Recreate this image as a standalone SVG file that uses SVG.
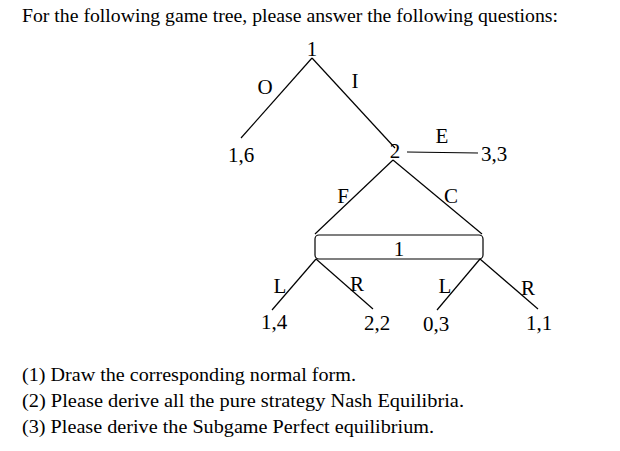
<svg xmlns="http://www.w3.org/2000/svg" width="620" height="451" viewBox="0 0 620 451">
<style>
text{font-family:"Liberation Serif","DejaVu Serif",serif;fill:#000}
.t{font-size:18px}
.n{font-size:21px}
line,.box{stroke:#000;stroke-width:1.2;fill:none}
</style>
<rect width="620" height="451" fill="#fff"/>
<text class="t" x="22" y="22" textLength="536" lengthAdjust="spacingAndGlyphs">For the following game tree, please answer the following questions:</text>
<g id="connectors">
<line x1="312" y1="58" x2="241" y2="138"/>
<line x1="312" y1="58" x2="395" y2="148"/>
<line x1="407" y1="152" x2="478" y2="153" stroke-width="0.8"/>
<line x1="393" y1="160" x2="315" y2="234"/>
<line x1="393" y1="160" x2="482" y2="234"/>
<line x1="316" y1="259" x2="272" y2="310"/>
<line x1="316" y1="259" x2="373" y2="309"/>
<line x1="480" y1="259" x2="437" y2="310"/>
<line x1="480" y1="259" x2="538" y2="309"/>
</g>
<g class="n" text-anchor="middle">
<text x="312" y="56">1</text>
<text x="265" y="94">O</text>
<text x="355" y="88">I</text>
<text x="241" y="162">1,6</text>
<text x="395" y="158">2</text>
<text x="442" y="143">E</text>
<text x="494" y="161">3,3</text>
<text x="343" y="203">F</text>
<text x="451" y="203">C</text>
</g>
<g id="infoset">
<rect class="box" x="315" y="235" width="168" height="24" rx="4"/>
<text class="n" x="399" y="256" text-anchor="middle">1</text>
</g>
<g class="n" text-anchor="middle">
<text x="280" y="293">L</text>
<text x="357" y="291">R</text>
<text x="445" y="293">L</text>
<text x="528" y="295">R</text>
<text x="274" y="329">1,4</text>
<text x="377" y="330">2,2</text>
<text x="436" y="331">0,3</text>
<text x="539" y="330">1,1</text>
</g>
<text class="t" x="22" y="381" textLength="334" lengthAdjust="spacingAndGlyphs">(1) Draw the corresponding normal form.</text>
<text class="t" x="22" y="407" textLength="442" lengthAdjust="spacingAndGlyphs">(2) Please derive all the pure strategy Nash Equilibria.</text>
<text class="t" x="22" y="433" textLength="412" lengthAdjust="spacingAndGlyphs">(3) Please derive the Subgame Perfect equilibrium.</text>
</svg>
